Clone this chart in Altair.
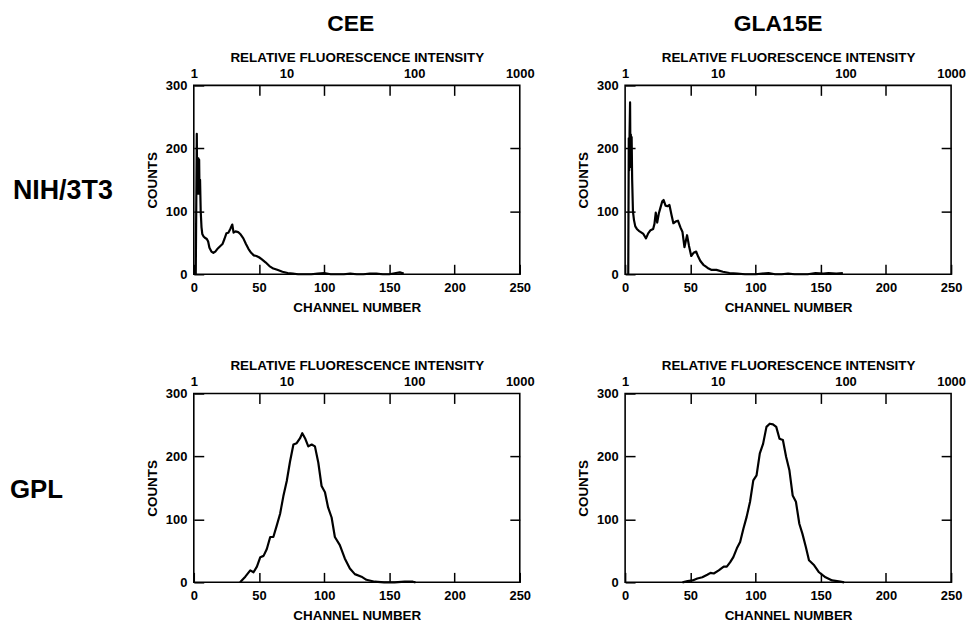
import altair as alt
import pandas as pd

# ---------------- data ----------------
column_titles = ["CEE", "GLA15E"]
row_titles = ["NIH/3T3", "GPL"]

x_ticks = [0, 50, 100, 150, 200, 250]
y_ticks = [0, 100, 200, 300]
inner_x_ticks = [50, 100, 150, 200]
inner_y_ticks = [100, 200]
rfi_positions = [0, 71, 169, 250]
rfi_labels = ["1", "10", "100", "1000"]

# CEE / NIH-3T3
ch_a = [1.5, 2.3, 2.6, 2.9, 3.2, 3.5, 3.8, 4.1, 4.4, 4.8,
        5.3, 5.9, 6.5, 7.5, 8.5, 10, 11, 12, 13.5, 15,
        16.5, 18, 20, 22, 23.5, 25, 26.5, 28, 29.5, 30.5,
        32, 34, 36, 38, 40, 42, 44, 46, 48, 50,
        52, 55, 58, 61, 64, 68, 72, 76, 80, 85,
        90, 95, 100, 105, 110, 115, 120, 125, 130, 135,
        140, 145, 150, 155, 158, 161]
cnt_a = [0, 223, 130, 185, 128, 184, 130, 182, 128, 150,
         100, 75, 64, 60, 58, 56, 52, 42, 36, 34,
         36, 40, 44, 48, 56, 65, 66, 72, 79, 66,
         68, 67, 63, 57, 48, 40, 34, 30, 29, 27,
         24, 19, 13, 9, 7, 4, 2, 1, 0, 0,
         0, 1, 2, 0, 0, 0, 1, 0, 0, 1,
         1, 0, 0, 2, 3, 1]

# GLA15E / NIH-3T3
ch_b = [2.4, 2.8, 3.1, 3.4, 3.8, 4.1, 4.4, 4.7, 5.0, 5.4,
        6.0, 6.8, 7.8, 9, 10.5, 12, 14, 16, 17.7, 19.5,
        21.5, 22.5, 23.5, 24.6, 25.8, 27, 28.5, 29.5, 31, 32.5,
        34, 35.5, 37, 39, 40.5, 42.5, 44, 45.5, 47.5, 49,
        50.7, 52.5, 54.5, 56, 57.7, 60, 62, 64, 66, 70,
        75, 80, 86, 92, 100, 105, 110, 115, 120, 125,
        130, 140, 146, 152, 156, 162, 167]
cnt_b = [0, 216, 165, 222, 273, 172, 222, 170, 218, 150,
         100, 86, 76, 72, 69, 67, 64, 57, 65, 70,
         72, 80, 98, 82, 96, 105, 116, 118, 109, 108,
         110, 95, 81, 84, 85, 74, 67, 43, 62, 45,
         29, 34, 36, 28, 21, 15, 12, 9, 7, 7,
         4, 2, 1, 0, 0, 1, 2, 0, 0, 1,
         0, 0, 2, 1, 2, 1, 2]

# CEE / GPL
ch_c = [35.5, 39.5, 43.3, 45.8, 48.4, 51, 53.5, 56, 58.6, 61,
        63.6, 66.2, 68.7, 71.3, 73.8, 76.4, 78.9, 81.5, 83.2, 85.3,
        87.8, 90.4, 92.9, 95.5, 98, 100.6, 103, 105.7, 108.2, 112,
        115.8, 119.7, 123.5, 128.6, 132.4, 138.8, 146, 154, 161.7, 168,
        170]
cnt_c = [0, 9, 19, 16, 25, 40, 42, 53, 72, 72,
         90, 109, 137, 161, 192, 219, 221, 229, 237, 229,
         216, 219, 216, 190, 153, 143, 119, 103, 72, 59,
         38, 22, 13, 9, 4, 1, 0, 0, 1, 1,
         0]

# GLA15E / GPL
ch_d = [44, 47.9, 51.7, 55.4, 59.2, 63, 65.5, 68, 71.8, 75.6,
        78, 80.6, 83, 85.7, 88.2, 90.7, 93.2, 95.8, 98.3, 100.8,
        103.3, 105.8, 108.4, 110.9, 113.4, 115.9, 118.4, 121, 123.5, 126,
        128.5, 131, 133.6, 136, 138.6, 141, 145, 148.7, 153.7, 158.8,
        165, 168]
cnt_d = [0, 2, 3, 6, 8, 12, 15, 14, 19, 25,
         25, 32, 40, 54, 64, 85, 104, 128, 162, 170,
         205, 220, 247, 252, 251, 247, 228, 226, 199, 178,
         138, 128, 93, 77, 56, 35, 27, 16, 8, 3,
         1, 0]

# ---------------- styling ----------------
W, H = 328, 190
FONT = "Liberation Sans"
LBL = 13
TTL = 13.5

label_expr = " : ".join(
    f"datum.value == {p} ? '{t}'" for p, t in zip(rfi_positions, rfi_labels)
) + " : ''"
hide_test = " || ".join(f"datum.value == {p}" for p in rfi_positions)

common = dict(
    offset=-10, tickSize=10, tickColor="black", tickWidth=1.5,
    domain=False, grid=False, labelFont=FONT, labelFontSize=LBL,
    labelFontWeight="bold", labelColor="black", titleFont=FONT,
    titleFontSize=TTL, titleFontWeight="bold", titleColor="black",
    labelOverlap=False, labelFlush=False,
)

bottom_axis = alt.Axis(orient="bottom", values=x_ticks, labelPadding=7,
                       title="CHANNEL NUMBER", titlePadding=6, **common)
left_axis = alt.Axis(orient="left", values=y_ticks, labelPadding=7,
                     title="COUNTS", titlePadding=6, **common)
top_axis = alt.Axis(orient="top", values=sorted(inner_x_ticks + rfi_positions),
                    labelExpr=label_expr, labelPadding=5,
                    tickOpacity={"condition": {"test": hide_test, "value": 0}, "value": 1},
                    title="RELATIVE FLUORESCENCE INTENSITY", titlePadding=3, **common)
right_axis = alt.Axis(orient="right", values=inner_y_ticks, labels=False, title=None,
                      offset=-10, tickSize=10, tickColor="black", tickWidth=1.5,
                      domain=False, grid=False)

xs = alt.Scale(domain=[0, 250], nice=False, zero=False)
ys = alt.Scale(domain=[0, 300], nice=False)


def panel(ch, cnt, col_title=None, col_dx=0, row_title=None, row_x=0, row_y=0, row_size=26):
    df = pd.DataFrame({"channel": ch, "count": cnt})
    line = alt.Chart(df).mark_line(color="black", strokeWidth=2.2, strokeJoin="round").encode(
        x=alt.X("channel:Q", scale=xs, axis=bottom_axis),
        y=alt.Y("count:Q", scale=ys, axis=left_axis),
    )
    ghost = alt.Chart(df).mark_line(opacity=0).encode(
        x=alt.X("channel:Q", scale=xs, axis=top_axis),
        y=alt.Y("count:Q", scale=ys, axis=right_axis),
    )
    layers = [line, ghost]
    if col_title:
        layers.append(
            alt.Chart(pd.DataFrame({"t": [col_title]})).mark_text(
                font=FONT, fontSize=23, fontWeight="bold", align="center",
                baseline="alphabetic", color="black",
            ).encode(x=alt.value(W / 2 + col_dx), y=alt.value(-55), text="t:N")
        )
    if row_title:
        layers.append(
            alt.Chart(pd.DataFrame({"t": [row_title]})).mark_text(
                font=FONT, fontSize=row_size, fontWeight="bold", align="left",
                baseline="alphabetic", color="black",
            ).encode(x=alt.value(row_x), y=alt.value(row_y), text="t:N")
        )
    return alt.layer(*layers).resolve_axis(x="independent", y="independent").properties(
        width=W, height=H
    )


pa = panel(ch_a, cnt_a, col_title=column_titles[0], col_dx=-6,
           row_title=row_titles[0], row_x=-182, row_y=114, row_size=27)
pb = panel(ch_b, cnt_b, col_title=column_titles[1], col_dx=-10)
pc = panel(ch_c, cnt_c, row_title=row_titles[1], row_x=-185, row_y=105, row_size=26)
pd_ = panel(ch_d, cnt_d)

chart = alt.concat(
    pa, pb, pc, pd_, columns=2, spacing={"row": 120, "column": 106}, bounds="flush"
).properties(
    padding={"left": 9, "top": 10, "right": 0, "bottom": 0}
).configure_view(stroke="black", strokeWidth=1.6)

chart.save("out.html", embed_options={"renderer": "svg", "actions": False})
